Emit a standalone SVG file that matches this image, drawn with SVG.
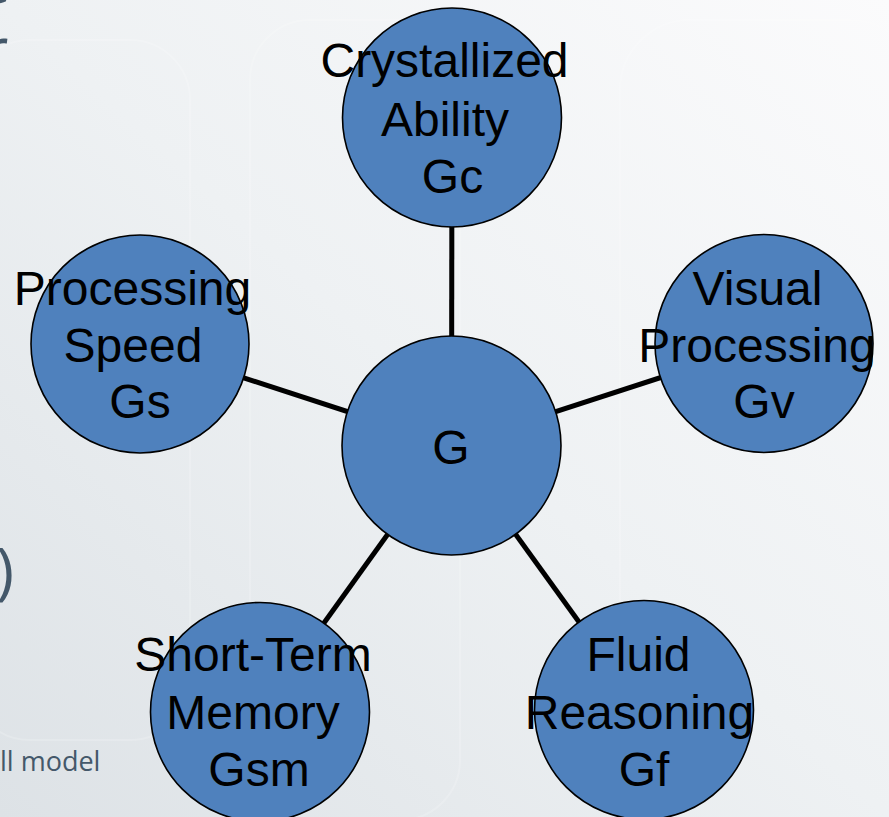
<svg xmlns="http://www.w3.org/2000/svg" width="889" height="817" viewBox="0 0 889 817">
  <defs>
    <linearGradient id="bg" x1="1" y1="0" x2="0" y2="1">
      <stop offset="0" stop-color="#fbfbfc"/>
      <stop offset="0.5" stop-color="#eef1f3"/>
      <stop offset="1" stop-color="#dde2e6"/>
    </linearGradient>
    <style>
      .node { fill: #4f81bd; stroke: #000; stroke-width: 1.6; }
      .lbl { font-family: "Liberation Sans", Arial, sans-serif; font-size: 48px; fill: #000; text-anchor: middle; }
      .edge { stroke: #000; stroke-width: 5; fill: none; }
      .slide { font-family: "Open Sans", "Liberation Sans", sans-serif; fill: #44586a; }
      .ghost { fill: none; stroke: #ffffff; stroke-opacity: 0.18; stroke-width: 2; }
    </style>
  </defs>
  <rect width="889" height="817" fill="url(#bg)"/>
  <g id="background">
    <rect class="ghost" x="-30" y="40" width="220" height="700" rx="60"/>
    <rect class="ghost" x="250" y="20" width="210" height="800" rx="60"/>
    <rect class="ghost" x="620" y="20" width="300" height="820" rx="70"/>
    <text class="slide" x="-24" y="3" font-size="62">e</text>
    <text class="slide" x="-17" y="72" font-size="62">r</text>
    <text class="slide" x="14" y="593" font-size="62" text-anchor="end">)</text>
    <text class="slide" x="0" y="771" font-size="27">ll model</text>
  </g>
  <g id="connectors">
    <line class="edge" x1="451.5" y1="445.5" x2="452" y2="117.5"/>
    <line class="edge" x1="451.5" y1="445.5" x2="764" y2="344"/>
    <line class="edge" x1="451.5" y1="445.5" x2="140" y2="344"/>
    <line class="edge" x1="451.5" y1="445.5" x2="260" y2="712"/>
    <line class="edge" x1="451.5" y1="445.5" x2="644" y2="712"/>
  </g>
  <g id="node-g">
    <circle class="node" cx="451.5" cy="445.5" r="109.5"/>
    <text class="lbl" x="451" y="464">G</text>
  </g>
  <g id="node-gc">
    <circle class="node" cx="452" cy="117.5" r="109.5"/>
    <text class="lbl" x="444.5" y="77">Crystallized</text>
    <text class="lbl" x="445" y="136">Ability</text>
    <text class="lbl" x="452.5" y="193">Gc</text>
  </g>
  <g id="node-gv">
    <circle class="node" cx="764" cy="343.5" r="109"/>
    <text class="lbl" x="757.5" y="305">Visual</text>
    <text class="lbl" x="757" y="362">Processing</text>
    <text class="lbl" x="764" y="418">Gv</text>
  </g>
  <g id="node-gs">
    <circle class="node" cx="140" cy="344" r="109"/>
    <text class="lbl" x="132.5" y="305">Processing</text>
    <text class="lbl" x="133" y="362">Speed</text>
    <text class="lbl" x="140" y="418">Gs</text>
  </g>
  <g id="node-gsm">
    <circle class="node" cx="260" cy="712" r="109.5"/>
    <text class="lbl" x="253" y="671">Short-Term</text>
    <text class="lbl" x="253" y="729">Memory</text>
    <text class="lbl" x="259" y="786">Gsm</text>
  </g>
  <g id="node-gf">
    <circle class="node" cx="644" cy="710" r="109.5"/>
    <text class="lbl" x="638.5" y="671">Fluid</text>
    <text class="lbl" x="639.5" y="729">Reasoning</text>
    <text class="lbl" x="644" y="786">Gf</text>
  </g>
</svg>
